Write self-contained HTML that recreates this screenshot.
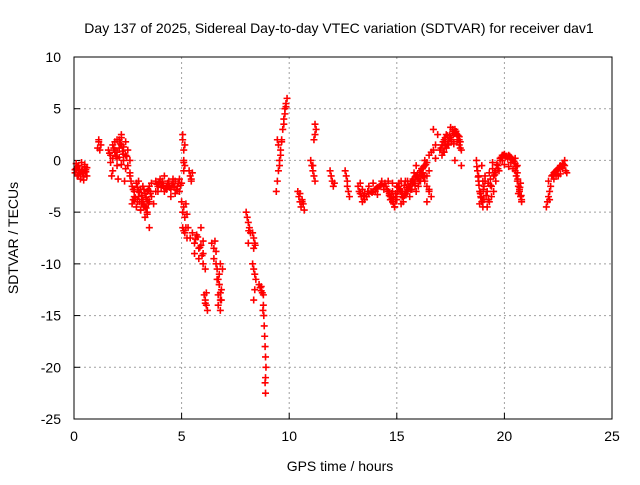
<!DOCTYPE html>
<html><head><meta charset="utf-8"><style>
body{margin:0;background:#fff;font-family:"Liberation Sans",sans-serif}
svg text{font-family:"Liberation Sans",sans-serif;font-size:14px;fill:#000}
</style></head><body>
<svg id="chart" width="640" height="480" xmlns="http://www.w3.org/2000/svg">
<rect width="640" height="480" fill="#fff"/>
<text x="339" y="33" text-anchor="middle">Day 137 of 2025, Sidereal Day-to-day VTEC variation (SDTVAR) for receiver dav1</text>
<text x="340" y="471" text-anchor="middle">GPS time / hours</text>
<text transform="translate(18,238) rotate(-90)" text-anchor="middle">SDTVAR / TECUs</text>
<g id="grid"></g><g id="ticks"></g><g id="points"></g>
<rect x="74" y="57" width="538" height="362" fill="none" stroke="#000" stroke-width="1"/>
</svg>
<script>
const xTicks=[0,5,10,15,20,25];
const yTicks=[10,5,0,-5,-10,-15,-20,-25];
const times=[
0.05,0.1,0.15,0.2,0.25,0.3,0.35,0.4,0.45,0.5,0.55,0.6,0.1,0.2,0.3,0.4,0.5,0.6,0.25,0.45,
1.1,1.15,1.2,1.25,1.15,
1.6,1.7,1.8,1.9,2.0,2.1,2.2,2.3,2.4,2.5,1.7,1.8,1.9,2.0,2.1,2.2,2.3,2.4,1.8,2.0,2.2,2.4,2.5,2.6,2.6,1.75,2.05,2.35,
2.6,2.7,2.8,2.9,3.0,3.1,3.2,3.3,3.4,3.5,2.7,2.8,2.9,3.0,3.1,3.2,3.3,3.4,3.5,3.6,3.0,3.2,3.4,3.6,3.3,3.5,2.8,3.1,3.4,3.7,3.8,3.9,
3.8,3.9,4.0,4.1,4.2,4.3,4.4,4.5,4.6,4.7,4.8,4.9,5.0,3.9,4.1,4.3,4.5,4.7,4.9,4.2,4.4,4.6,4.8,
5.05,5.05,5.1,5.1,5.1,5.15,5.15,5.1,
5.35,5.4,5.45,5.5,5.45,
5.0,5.05,5.1,5.15,5.2,5.25,5.05,5.15,5.25,5.1,5.2,
5.3,5.4,5.5,5.6,5.7,5.8,5.9,6.0,5.6,5.8,5.9,6.0,6.1,6.0,
6.05,6.1,6.15,6.2,6.1,6.15,
6.4,6.5,6.55,6.6,6.5,6.6,
6.65,6.7,6.75,6.8,6.85,6.7,6.8,6.75,6.85,6.7,6.8,6.9,
8.0,8.05,8.1,8.15,8.2,8.1,
8.3,8.35,8.4,8.35,
8.3,8.35,8.4,8.45,8.4,8.35,
8.6,8.65,8.7,8.75,8.8,8.7,
8.8,8.82,8.84,8.86,8.88,8.9,8.92,8.9,8.88,8.9,
9.4,9.45,9.5,9.55,9.6,9.65,9.5,9.6,9.55,9.45,
9.65,9.7,9.75,9.8,9.85,9.9,9.75,9.85,9.8,
10.4,10.45,10.5,10.55,10.6,10.65,10.7,10.5,10.6,
11.0,11.05,11.1,11.15,11.2,11.1,11.2,11.25,11.2,11.15,
11.9,11.95,12.0,12.05,12.1,
12.6,12.65,12.7,12.7,12.75,12.8,
13.2,13.25,13.3,13.35,13.4,13.3,
13.4,13.5,13.6,13.7,13.8,13.9,14.0,14.1,14.2,14.3,14.4,13.5,13.7,13.9,14.1,14.3,13.6,14.0,14.4,
14.5,14.6,14.7,14.8,14.9,15.0,15.1,15.2,15.3,15.4,15.5,14.6,14.8,15.0,15.2,15.4,14.7,14.9,15.1,15.3,14.8,15.0,15.2,
15.5,15.6,15.7,15.8,15.9,16.0,16.1,16.2,16.3,16.4,15.6,15.8,16.0,16.2,16.4,15.7,15.9,16.1,16.3,16.5,15.5,15.9,16.3,
16.2,16.3,16.4,16.5,16.6,16.4,16.5,
16.5,16.6,16.7,16.8,16.9,16.7,16.8,
17.0,17.1,17.2,17.3,17.4,17.5,17.6,17.7,17.8,17.9,18.0,17.1,17.3,17.5,17.7,17.9,17.2,17.4,17.6,17.8,17.5,17.7,17.9,18.0,
18.7,18.75,18.8,18.85,18.9,18.95,19.0,19.05,19.1,18.8,18.9,19.0,18.85,18.95,19.05,
19.1,19.2,19.3,19.4,19.5,19.6,19.7,19.8,19.2,19.4,19.6,19.3,19.5,19.7,19.25,19.45,
19.8,19.9,20.0,20.1,20.2,20.3,20.4,20.5,20.6,19.9,20.1,20.3,20.5,20.0,20.2,20.4,
20.5,20.55,20.6,20.65,20.7,20.75,20.8,20.6,20.7,20.8,20.65,20.75,
21.95,22.0,22.05,22.1,22.15,22.05,22.1,
22.2,22.3,22.4,22.5,22.6,22.7,22.8,22.9,22.3,22.5,22.7,22.85,22.4,22.6,22.8,
0.15,0.35,0.55,0.05,0.45,
1.65,1.85,1.95,2.15,2.25,2.45,1.9,2.1,2.3,2.0,2.2,
2.65,2.75,2.85,2.95,3.05,3.15,3.25,3.35,3.45,3.55,2.75,2.95,3.15,3.35,3.55,3.25,3.45,3.05,
3.85,3.95,4.05,4.15,4.25,4.35,4.45,4.55,4.65,4.75,4.85,4.95,
5.65,5.75,5.85,5.95,6.65,6.75,6.8,8.12,8.42,8.78,
13.45,13.65,13.85,14.05,14.25,14.45,
14.55,14.65,14.75,14.85,14.95,15.05,15.15,15.25,15.35,15.45,14.65,14.85,15.05,15.25,15.45,14.75,14.95,15.15,15.35,
15.55,15.65,15.75,15.85,15.95,16.05,16.15,16.25,16.35,15.65,15.85,16.05,16.25,15.75,15.95,16.15,
17.05,17.15,17.25,17.35,17.45,17.55,17.65,17.75,17.85,17.95,17.15,17.35,17.55,17.75,17.95,17.25,17.45,17.65,17.85,
18.72,18.82,18.92,19.02,18.78,18.88,18.98,19.15,19.25,19.35,19.45,19.55,19.65,19.75,19.35,19.55,
19.85,19.95,20.05,20.15,20.25,20.35,20.45,20.55,20.62,20.72,20.78,
22.25,22.35,22.45,22.55,22.65,22.75
];
const values=[
-1.2,-0.8,-1.5,-0.5,-1.0,-1.3,-0.2,-0.9,-1.6,-0.4,-1.1,-0.7,-0.3,-1.4,-1.8,-1.2,-0.6,-1.5,-0.9,-1.9,
1.2,1.8,1.0,1.5,2.0,
1.0,0.5,1.5,0.8,2.0,1.2,2.5,0.6,1.8,1.0,-0.2,0.2,1.0,-0.5,0.3,2.2,0.0,-0.8,-1.0,0.8,1.5,0.5,-0.5,0.0,-1.2,-1.5,-1.8,-2.0,
-1.5,-2.5,-3.0,-2.2,-3.5,-2.8,-4.0,-3.2,-3.8,-2.5,-4.2,-3.5,-4.5,-3.0,-4.8,-3.8,-4.5,-5.0,-4.0,-3.5,-2.0,-2.5,-3.0,-2.2,-5.5,-6.5,-3.8,-4.8,-5.2,-4.2,-3.0,-2.5,
-2.0,-2.5,-1.8,-2.2,-3.0,-2.5,-2.0,-2.8,-2.2,-3.2,-2.5,-1.8,-2.2,-3.0,-2.0,-2.8,-3.5,-2.0,-3.0,-1.5,-2.5,-1.8,-2.8,
2.5,2.0,1.0,0.0,-1.0,-0.5,1.5,-0.2,
-1.0,-1.5,-1.8,-1.2,-2.0,
-4.0,-5.0,-4.5,-5.5,-4.2,-5.2,-6.5,-7.0,-7.5,-6.8,-6.5,
-6.5,-7.5,-7.0,-8.0,-7.2,-8.5,-6.5,-7.8,-9.0,-9.5,-8.2,-10.0,-10.5,-9.0,
-13.0,-13.5,-14.0,-14.5,-13.8,-12.8,
-8.0,-8.5,-7.8,-8.8,-9.5,-10.0,
-10.5,-11.5,-12.0,-12.8,-13.5,-14.0,-14.5,-11.0,-12.5,-13.0,-10.0,-10.5,
-5.0,-5.5,-6.0,-6.5,-7.0,-8.0,
-7.0,-7.5,-8.0,-8.5,
-10.0,-10.5,-11.0,-11.5,-12.5,-13.5,
-12.0,-12.3,-12.6,-12.8,-13.0,-12.2,
-14.0,-15.0,-16.0,-17.0,-18.0,-19.0,-20.0,-21.0,-21.5,-22.5,
-3.0,-2.0,-1.0,0.0,1.0,1.8,1.5,0.5,-0.5,2.0,
2.0,3.0,4.0,5.0,5.5,6.0,3.5,5.2,4.5,
-3.0,-3.5,-4.0,-4.5,-3.8,-4.2,-4.8,-3.2,-4.0,
0.0,-0.5,-1.0,-1.5,-2.0,-0.5,2.5,3.0,3.5,2.0,
-1.0,-1.5,-2.0,-2.5,-2.2,
-1.0,-1.5,-2.0,-2.5,-3.0,-3.5,
-2.5,-3.0,-3.2,-3.5,-2.8,-2.2,
-4.0,-3.8,-3.5,-3.2,-3.0,-3.0,-2.8,-2.6,-2.5,-2.3,-2.5,-3.2,-2.5,-2.2,-3.3,-2.0,-3.5,-3.0,-2.8,
-2.5,-3.0,-3.5,-4.0,-4.5,-3.5,-2.5,-3.0,-4.0,-3.2,-2.8,-2.0,-2.2,-2.5,-4.2,-2.0,-3.8,-4.5,-2.2,-3.6,-3.0,-3.8,-2.0,
-3.0,-2.5,-2.0,-2.2,-1.5,-1.8,-1.0,-1.2,-0.5,-0.2,-3.5,-1.2,-2.5,-0.8,-1.5,-2.8,-0.5,-2.0,0.0,-1.0,-2.0,-3.0,-1.5,
-1.5,-2.0,-2.5,-3.0,-3.5,-4.0,-2.8,
0.5,0.8,1.0,1.5,2.5,3.0,0.2,
1.0,1.5,2.0,2.5,1.8,2.2,2.8,3.0,2.5,2.0,1.0,0.5,1.2,3.2,2.6,2.3,0.8,1.5,3.0,1.8,2.2,0.0,1.5,-0.5,
0.0,-1.0,-2.0,-3.0,-3.5,-4.0,-4.5,-2.5,-1.5,-1.5,-3.2,-2.0,-4.2,-0.5,-3.8,
-2.0,-3.0,-4.0,-2.5,-1.5,-1.0,-0.5,0.0,-4.5,-3.5,-2.0,-1.2,-3.0,-0.8,-3.8,-0.2,
0.2,0.5,0.6,0.4,0.5,0.3,0.0,-0.3,-0.5,0.0,0.4,-0.2,0.2,-0.4,-0.6,-0.8,
-1.0,-1.5,-2.0,-2.5,-3.0,-3.5,-4.0,-1.2,-2.8,-3.8,-3.2,-2.2,
-4.5,-4.0,-3.5,-3.0,-2.5,-2.0,-3.8,
-1.5,-1.2,-1.0,-0.8,-0.5,-0.3,0.0,-1.2,-1.8,-1.5,-0.8,-1.0,-1.4,-1.3,-0.5,
-0.6,-1.0,-0.9,-0.9,-1.3,
0.7,1.2,0.4,1.6,0.9,0.4,1.8,2.0,1.3,0.2,-0.4,
-2.0,-2.8,-3.6,-2.6,-4.0,-3.4,-4.4,-3.6,-4.2,-3.0,-3.8,-4.0,-4.2,-4.6,-3.2,-2.8,-2.9,-3.1,
-2.3,-2.1,-2.6,-2.4,-2.7,-2.2,-2.6,-2.4,-2.6,-2.8,-2.2,-2.4,
-7.6,-7.4,-8.4,-9.2,-11.5,-12.0,-13.5,-6.8,-8.2,-14.5,
-3.4,-3.0,-3.1,-2.7,-2.4,-2.2,
-2.8,-3.2,-3.8,-4.2,-3.8,-3.0,-2.8,-3.5,-3.4,-2.6,-3.4,-3.6,-2.6,-3.0,-3.0,-3.2,-3.2,-3.0,-2.4,
-2.6,-2.2,-1.8,-1.6,-1.4,-1.2,-0.8,-0.6,-0.4,-2.8,-2.4,-2.0,-1.6,-2.0,-1.6,-1.4,
1.2,1.8,2.2,1.6,2.4,2.0,2.6,2.8,2.4,1.8,0.8,2.4,1.8,2.8,1.2,1.4,2.2,1.6,2.0,
-0.6,-2.4,-3.6,-2.8,-1.6,-3.2,-4.0,-3.4,-2.2,-1.8,-0.8,-1.4,-0.4,-1.0,-2.4,-1.2,
0.3,0.5,0.4,0.2,0.4,0.1,-0.1,-0.6,-1.8,-2.6,-3.4,
-1.4,-1.1,-0.9,-0.7,-0.6,-0.4
];
const X0=74,X1=612,Y0=419,Y1=57,XMIN=0,XMAX=25,YMIN=-25,YMAX=10;
function xs(t){return X0+(t-XMIN)/(XMAX-XMIN)*(X1-X0);}
function ys(v){return Y0-(v-YMIN)/(YMAX-YMIN)*(Y0-Y1);}
const NS='http://www.w3.org/2000/svg';
const grid=document.getElementById('grid'),ticks=document.getElementById('ticks'),pts=document.getElementById('points');
function mk(tag,attrs,parent){const e=document.createElementNS(NS,tag);for(const k in attrs)e.setAttribute(k,attrs[k]);parent.appendChild(e);return e;}
xTicks.forEach(t=>{const x=xs(t);
 if(t>XMIN&&t<XMAX){const g=mk('line',{x1:x,x2:x,y1:Y1,y2:Y0,stroke:'#a0a0a0','stroke-dasharray':'2,3'},grid);
 
 }
 const tk=mk('line',{x1:x,x2:x,y1:Y0,y2:Y0-6,stroke:'#000'},ticks);
 
 
 const tx=mk('text',{x:x,y:Y0+22,'text-anchor':'middle'},ticks);tx.textContent=t;
 
 });
yTicks.forEach(v=>{const y=ys(v);
 if(v>YMIN&&v<YMAX){const g=mk('line',{x1:X0,x2:X1,y1:y,y2:y,stroke:'#a0a0a0','stroke-dasharray':'2,3'},grid);
 
 }
 const tk=mk('line',{x1:X0,x2:X0+6,y1:y,y2:y,stroke:'#000'},ticks);
 
 
 const tx=mk('text',{x:X0-13,y:y+5,'text-anchor':'end'},ticks);tx.textContent=v;
 
 });
times.forEach((t,i)=>{const x=xs(t),y=ys(values[i]);
 const p=mk('path',{d:`M${x-3.5},${y}h7M${x},${y-3.5}v7`,stroke:'#ff0000','stroke-width':1.6,fill:'none'},pts);
 
 });
</script>
</body></html>
